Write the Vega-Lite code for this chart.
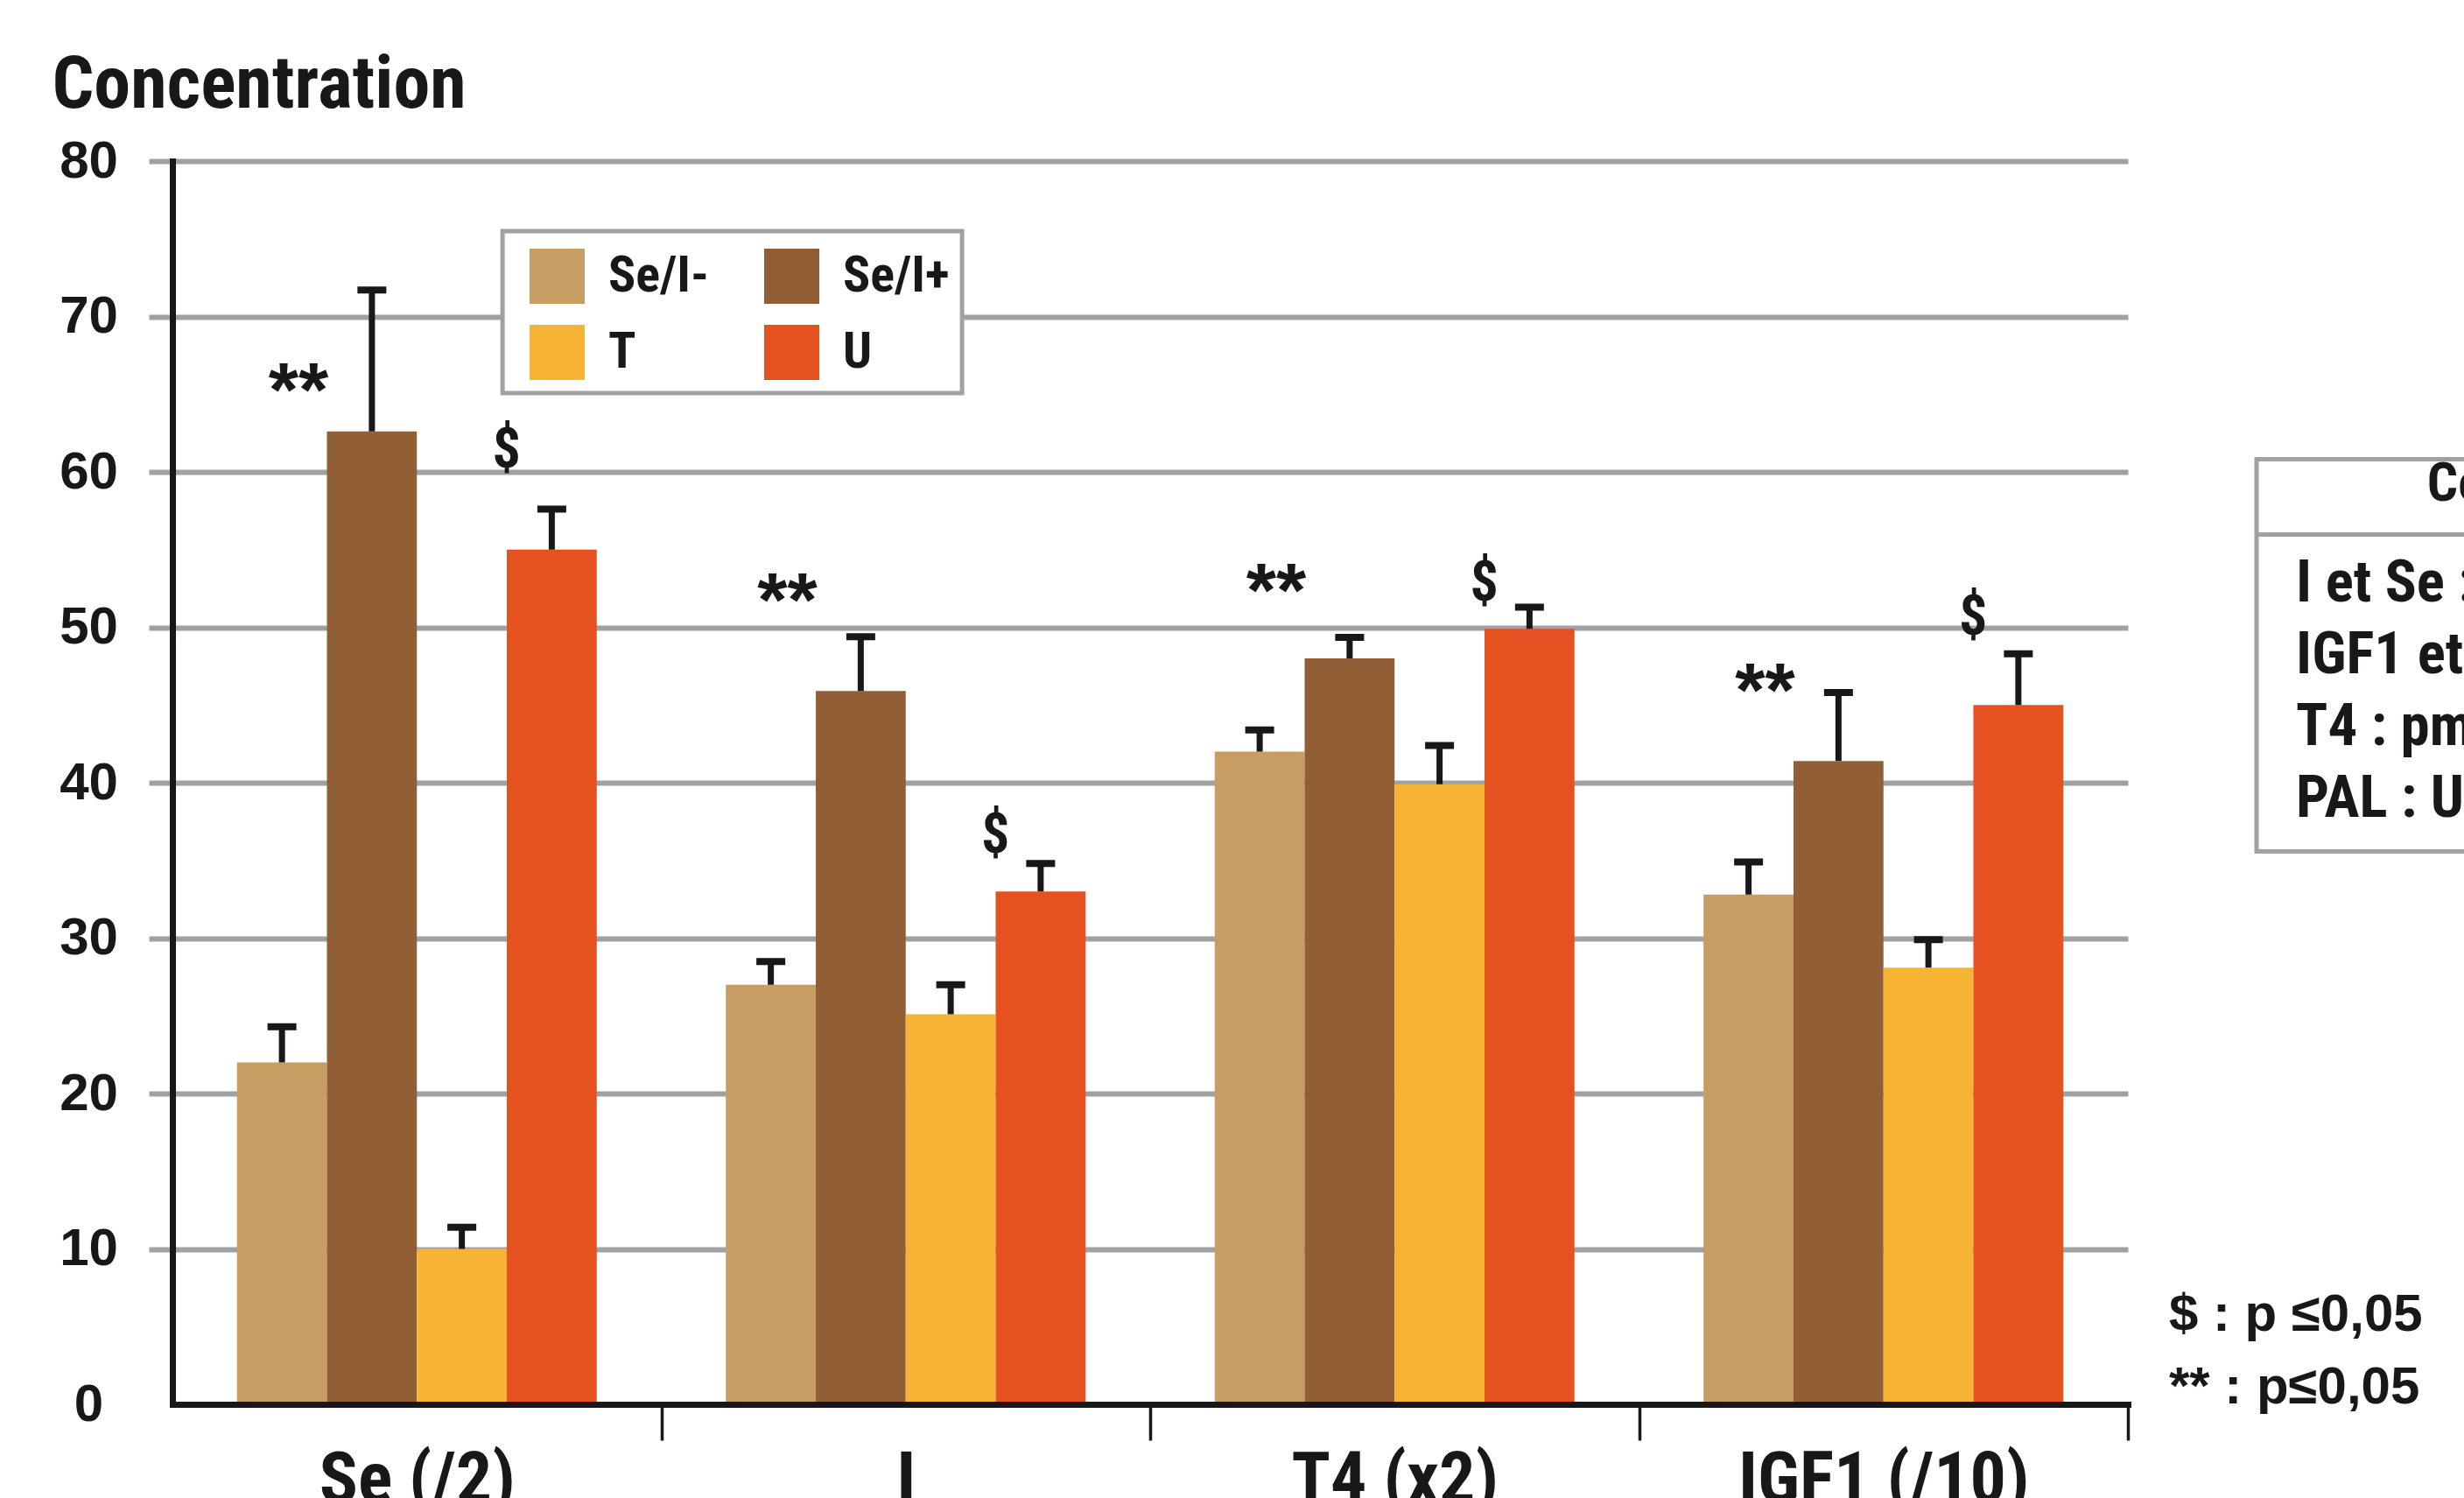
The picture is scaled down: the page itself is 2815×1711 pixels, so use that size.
{
  "$schema": "https://vega.github.io/schema/vega-lite/v6.json",
  "width": 2234,
  "height": 1420,
  "autosize": {"type": "none"},
  "padding": {"left": 197, "top": 184, "right": 384, "bottom": 107},
  "background": "white",
  "config": {"view": {"stroke": null}, "font": "Roboto Condensed, Noto Sans Condensed, DejaVu Sans Condensed, Roboto"},
  "datasets": {
    "barres": [
      {"groupe": "Se (/2)", "serie": "Se/I-", "valeur": 22.0, "erreur": 24.3},
      {"groupe": "Se (/2)", "serie": "Se/I+", "valeur": 62.6, "erreur": 71.7},
      {"groupe": "Se (/2)", "serie": "T", "valeur": 10.0, "erreur": 11.4},
      {"groupe": "Se (/2)", "serie": "U", "valeur": 55.0, "erreur": 57.6},
      {"groupe": "I", "serie": "Se/I-", "valeur": 27.0, "erreur": 28.5},
      {"groupe": "I", "serie": "Se/I+", "valeur": 45.9, "erreur": 49.4},
      {"groupe": "I", "serie": "T", "valeur": 25.1, "erreur": 27.0},
      {"groupe": "I", "serie": "U", "valeur": 33.0, "erreur": 34.8},
      {"groupe": "T4 (x2)", "serie": "Se/I-", "valeur": 42.0, "erreur": 43.4},
      {"groupe": "T4 (x2)", "serie": "Se/I+", "valeur": 48.0, "erreur": 49.35},
      {"groupe": "T4 (x2)", "serie": "T", "valeur": 39.9, "erreur": 42.4},
      {"groupe": "T4 (x2)", "serie": "U", "valeur": 49.9, "erreur": 51.3},
      {"groupe": "IGF1 (/10)", "serie": "Se/I-", "valeur": 32.8, "erreur": 34.9},
      {"groupe": "IGF1 (/10)", "serie": "Se/I+", "valeur": 41.4, "erreur": 45.8},
      {"groupe": "IGF1 (/10)", "serie": "T", "valeur": 28.1, "erreur": 29.9},
      {"groupe": "IGF1 (/10)", "serie": "U", "valeur": 45.0, "erreur": 48.3}
    ],
    "annotations": [
      {"groupe": "Se (/2)", "serie": "Se/I-", "symbole": "**", "niveau": 63.6},
      {"groupe": "Se (/2)", "serie": "T", "symbole": "$", "niveau": 60.3},
      {"groupe": "I", "serie": "Se/I-", "symbole": "**", "niveau": 50.1},
      {"groupe": "I", "serie": "T", "symbole": "$", "niveau": 35.5},
      {"groupe": "T4 (x2)", "serie": "Se/I-", "symbole": "**", "niveau": 50.7},
      {"groupe": "T4 (x2)", "serie": "T", "symbole": "$", "niveau": 51.7},
      {"groupe": "IGF1 (/10)", "serie": "Se/I-", "symbole": "**", "niveau": 44.3},
      {"groupe": "IGF1 (/10)", "serie": "T", "symbole": "$", "niveau": 49.5}
    ]
  },
  "layer": [
    {
      "layer": [
        {
          "data": {"name": "barres"},
          "mark": {"type": "bar"},
          "encoding": {
            "x": {
              "field": "groupe", "type": "nominal",
              "scale": {"domain": ["Se (/2)", "I", "T4 (x2)", "IGF1 (/10)"], "paddingInner": 0, "paddingOuter": 0},
              "axis": {
                "title": null, "orient": "bottom", "zindex": 1,
                "domainColor": "#1a171b", "domainWidth": 7, "domainCap": "square",
                "tickBand": "extent",
                "tickColor": {"condition": {"test": "datum.extra", "value": "transparent"}, "value": "#1a171b"},
                "tickWidth": 3.5, "tickSize": 41,
                "labelFont": "Roboto Condensed, Noto Sans Condensed, DejaVu Sans Condensed, Roboto", "labelFontWeight": "bold", "labelFontSize": 82,
                "labelColor": "#1a171b", "labelBaseline": "alphabetic", "labelPadding": 70, "labelAngle": 0, "labelLimit": 0
              }
            },
            "xOffset": {"field": "serie", "type": "nominal", "scale": {"domain": ["Se/I-", "Se/I+", "T", "U"], "paddingInner": 0, "paddingOuter": 0.7177}},
            "y": {
              "field": "valeur", "type": "quantitative", "title": "Concentration",
              "scale": {"domain": [0, 80], "nice": false},
              "axis": {
                "values": [0, 10, 20, 30, 40, 50, 60, 70, 80], "zindex": 0,
                "domainColor": "#1a171b", "domainWidth": 7, "domainCap": "square",
                "grid": true, "gridColor": "#a0a1a4", "gridWidth": 6,
                "tickColor": {"condition": {"test": "datum.value === 0", "value": "transparent"}, "value": "#a0a1a4"},
                "tickWidth": 6, "tickSize": 27,
                "labelFont": "Liberation Sans", "labelFontWeight": "bold", "labelFontSize": 60,
                "labelColor": "#1a171b", "labelAlign": "center", "labelBaseline": "middle", "labelPadding": 69,
                "titleFont": "Roboto Condensed, Noto Sans Condensed, DejaVu Sans Condensed, Roboto", "titleFontWeight": "bold", "titleFontSize": 84, "titleColor": "#1a171b",
                "titleAngle": 0, "titleAlign": "left", "titleBaseline": "alphabetic", "titleX": -138, "titleY": -62, "titleLimit": 0
              }
            },
            "color": {
              "field": "serie", "type": "nominal",
              "scale": {"domain": ["Se/I-", "Se/I+", "T", "U"], "range": ["#c89d64", "#915e36", "#f7b334", "#e65120"]},
              "legend": {
                "title": null, "orient": "none", "direction": "horizontal", "legendX": 408, "legendY": 100, "columns": 2,
                "symbolType": "square", "symbolSize": 3969, "symbolStrokeWidth": 0, "symbolOpacity": 1,
                "labelFont": "Roboto Condensed, Noto Sans Condensed, DejaVu Sans Condensed, Roboto", "labelFontWeight": "bold", "labelFontSize": 58, "labelColor": "#1a171b",
                "labelOffset": 27, "columnPadding": 63, "rowPadding": 24, "padding": 0, "labelLimit": 0
              }
            }
          }
        },
        {
          "data": {"name": "barres"},
          "mark": {"type": "rule", "color": "#1a171b", "strokeWidth": 7},
          "encoding": {
            "x": {"field": "groupe", "type": "nominal"},
            "xOffset": {"field": "serie", "type": "nominal"},
            "y": {"field": "valeur", "type": "quantitative", "title": "Concentration"},
            "y2": {"field": "erreur"}
          }
        },
        {
          "data": {"name": "barres"},
          "mark": {"type": "tick", "color": "#1a171b", "thickness": 8, "size": 33, "opacity": 1},
          "encoding": {
            "x": {"field": "groupe", "type": "nominal"},
            "xOffset": {"field": "serie", "type": "nominal"},
            "y": {"field": "erreur", "type": "quantitative", "title": "Concentration"}
          }
        },
        {
          "data": {"name": "annotations"},
          "transform": [{"filter": "datum.symbole === '**'"}],
          "mark": {"type": "text", "font": "Liberation Sans", "fontWeight": "bold", "fontSize": 88, "color": "#1a171b", "align": "center", "baseline": "alphabetic", "dx": 19},
          "encoding": {
            "x": {"field": "groupe", "type": "nominal"},
            "xOffset": {"field": "serie", "type": "nominal"},
            "y": {"field": "niveau", "type": "quantitative", "title": "Concentration"},
            "text": {"field": "symbole"}
          }
        },
        {
          "data": {"name": "annotations"},
          "transform": [{"filter": "datum.symbole === '$'"}],
          "mark": {"type": "text", "font": "Roboto Condensed, Noto Sans Condensed, DejaVu Sans Condensed, Roboto", "fontWeight": "bold", "fontSize": 64, "color": "#1a171b", "align": "center", "baseline": "alphabetic", "dx": 51},
          "encoding": {
            "x": {"field": "groupe", "type": "nominal"},
            "xOffset": {"field": "serie", "type": "nominal"},
            "y": {"field": "niveau", "type": "quantitative", "title": "Concentration"},
            "text": {"field": "symbole"}
          }
        }
      ]
    },
    {
      "data": {"values": [{}]},
      "layer": [
        {
          "mark": {"type": "rect", "fill": "white", "stroke": "#a0a1a4", "strokeWidth": 5},
          "encoding": {
            "x": {"datum": 16.88, "type": "quantitative", "scale": {"domain": [0, 100]}, "axis": null},
            "x2": {"datum": 40.38},
            "y": {"datum": 75.49, "type": "quantitative"},
            "y2": {"datum": 65.07}
          }
        },
        {
          "mark": {"type": "rect", "fill": "white", "stroke": "#a0a1a4", "strokeWidth": 5},
          "encoding": {
            "x": {"datum": 106.58, "type": "quantitative"},
            "x2": {"datum": 140},
            "y": {"datum": 60.82, "type": "quantitative"},
            "y2": {"datum": 35.58}
          }
        },
        {
          "mark": {"type": "rule", "color": "#a0a1a4", "strokeWidth": 5},
          "encoding": {
            "x": {"datum": 106.58, "type": "quantitative"},
            "x2": {"datum": 140},
            "y": {"datum": 55.97, "type": "quantitative"}
          }
        },
        {
          "mark": {"type": "text", "text": "Concentrations", "font": "Roboto Condensed, Noto Sans Condensed, DejaVu Sans Condensed, Roboto", "fontWeight": "bold", "fontSize": 62, "color": "#1a171b", "align": "left", "baseline": "alphabetic"},
          "encoding": {
            "x": {"datum": 115.3, "type": "quantitative"},
            "y": {"datum": 58.14, "type": "quantitative"}
          }
        },
        {
          "mark": {"type": "text", "text": ["I et Se : µg/L", "IGF1 et cortisol : ng/mL", "T4 : pmol/L", "PAL : UI/L"], "lineHeight": 82, "font": "Roboto Condensed, Noto Sans Condensed, DejaVu Sans Condensed, Roboto", "fontWeight": "bold", "fontSize": 67, "color": "#1a171b", "align": "left", "baseline": "alphabetic"},
          "encoding": {
            "x": {"datum": 108.6, "type": "quantitative"},
            "y": {"datum": 51.66, "type": "quantitative"}
          }
        },
        {
          "mark": {"type": "text", "text": ["$ : p ≤0,05", "** : p≤0,05"], "lineHeight": 83, "font": "Liberation Sans", "fontWeight": "bold", "fontSize": 60, "color": "#1a171b", "align": "left", "baseline": "alphabetic"},
          "encoding": {
            "x": {"datum": 102.1, "type": "quantitative"},
            "y": {"datum": 4.73, "type": "quantitative"}
          }
        }
      ]
    }
  ],
  "resolve": {"scale": {"x": "independent"}}
}
